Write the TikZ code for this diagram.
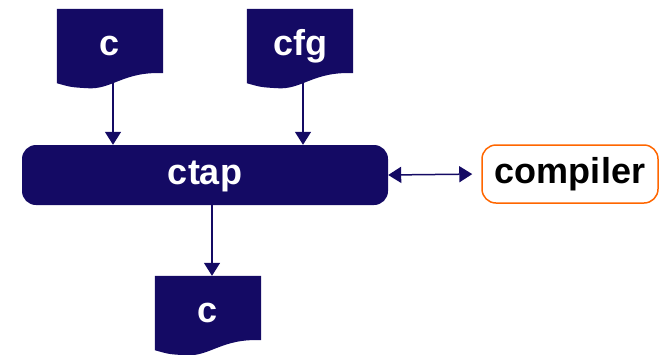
\documentclass[tikz,border=0pt]{standalone}
\usepackage{fontspec}
\setmainfont{Liberation Sans}
\usetikzlibrary{arrows.meta,calc}
\definecolor{navy}{RGB}{20,10,100}
\definecolor{orng}{RGB}{255,102,0}
% filled document symbol with a wavy lower edge, built on a named node
\newcommand\docfill[1]{%
  \fill[navy] (#1.north west) -- (#1.north east) -- ($(#1.south east)+(0,-10)$)
    .. controls ($(#1.south east)+(-40,-12)$) and ($(#1.south west)+(55,7)$) .. ($(#1.south west)+(30,5)$)
    .. controls ($(#1.south west)+(14,4)$) .. (#1.south west) -- cycle;}
\begin{document}
\begin{tikzpicture}[x=1pt,y=-1pt,
  lbl/.style={font=\fontsize{36}{40}\selectfont\bfseries, text height=19pt, text depth=0pt, inner sep=0pt},
  doc/.style={lbl, text=white, minimum width=106pt, minimum height=74pt},
  proc/.style={lbl, text=white, fill=navy, rounded corners=14pt, minimum width=366pt, minimum height=60pt},
  ext/.style={lbl, text=black, draw=orng, line width=1.5pt, rounded corners=14pt, minimum width=176pt, minimum height=58pt},
  flow/.style={draw=navy, line width=1.5pt, -{Triangle[width=16pt,length=13pt]}},
  link/.style={draw=navy, line width=1.5pt, {Triangle[width=16pt,length=13pt]}-{Triangle[width=16pt,length=13pt]}},
]
\useasboundingbox (0,0) rectangle (661,354);

% input and output documents
\path node[doc] (src) at (110,46) {};
\path node[doc] (cfg) at (300,46) {};
\path node[doc] (out) at (208,313) {};
\docfill{src}
\docfill{cfg}
\docfill{out}
\node[doc] at (src) {c};
\node[doc] at (cfg) {cfg};
\node[doc] at (out) {c};

% the processing step and the external tool
\node[proc] (ctap) at (205,175) {ctap};
\node[ext] (comp) at (570,174) {compiler};

% connectors
\coordinate (srcfoot) at ($(src.south)+(3,-2)$);
\coordinate (cfgfoot) at ($(cfg.south)+(3,-2)$);
\coordinate (outhead) at ($(out.north)+(4,0)$);
\draw[flow] (srcfoot) -- (srcfoot |- ctap.north);
\draw[flow] (cfgfoot) -- (cfgfoot |- ctap.north);
\draw[flow] (outhead |- ctap.south) -- (outhead);
\draw[link, shorten >=9pt] (ctap.east) -- (comp.west);
\end{tikzpicture}
\end{document}
